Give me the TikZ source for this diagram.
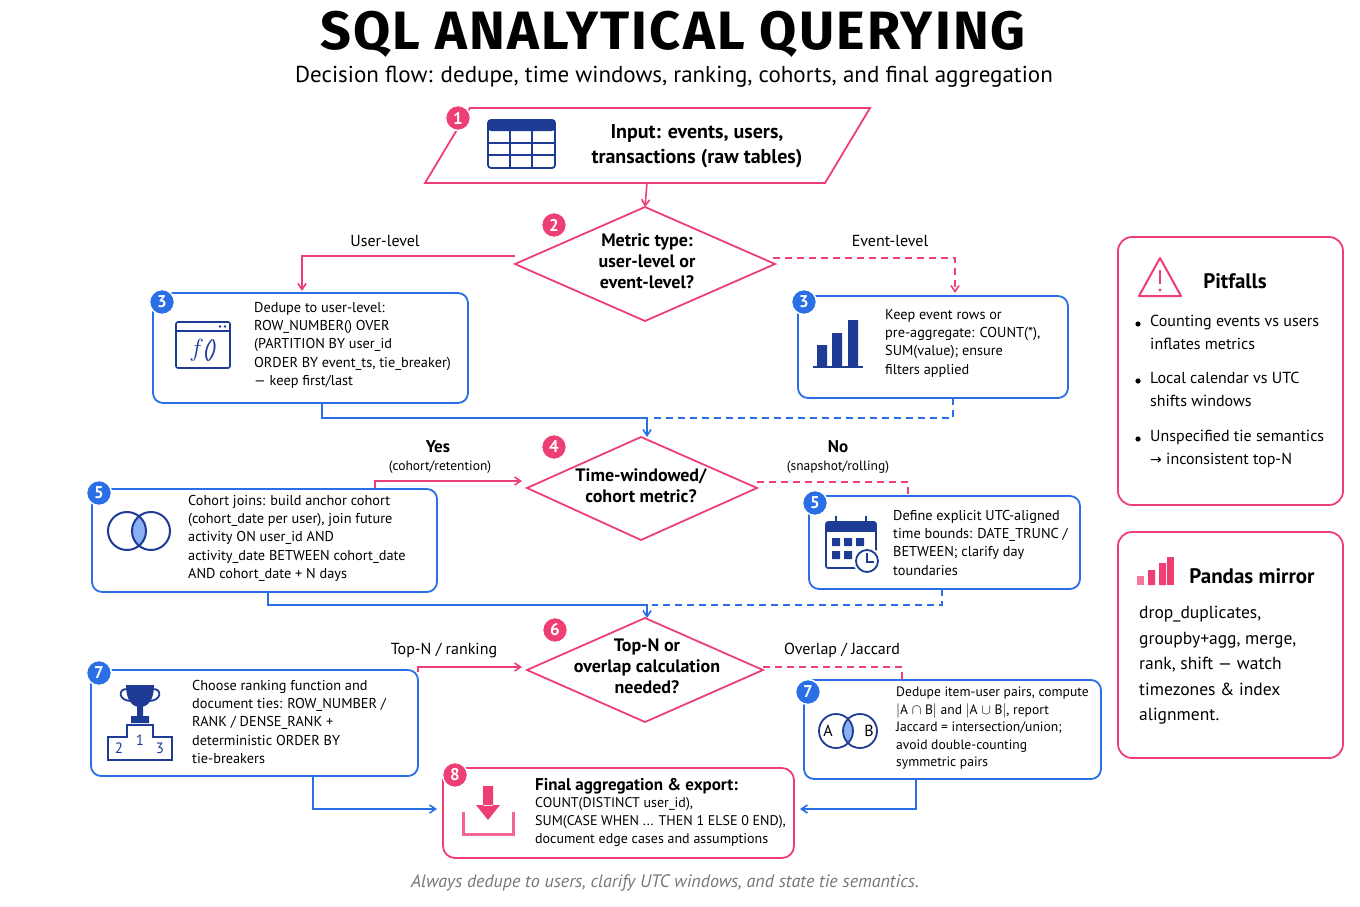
\documentclass[tikz,border=0pt]{standalone}
\usepackage{fontspec}
\setmainfont{PT Sans}
\newfontfamily\titlefont[LetterSpace=4]{Fira Sans}
\newfontfamily\dejavu{DejaVu Sans}
\usetikzlibrary{arrows.meta}
\definecolor{pk}{HTML}{EE3F74}
\definecolor{bl}{HTML}{2A6FE6}
\definecolor{nv}{HTML}{1E3C96}
\definecolor{gr}{HTML}{777777}
\begin{document}
\begin{tikzpicture}[x=1pt,y=-1pt,
 pline/.style={pk,line width=1.6pt},
 bline/.style={bl,line width=1.6pt},
 parr/.style={pline,-{Straight Barb[length=6pt,width=8pt]}},
 barr/.style={bline,-{Straight Barb[length=6pt,width=8pt]}},
 dsh/.style={dash pattern=on 7pt off 5pt},
 bbox/.style={draw=bl,line width=1.8pt,rounded corners=10pt},
 pbox/.style={draw=pk,line width=1.8pt,rounded corners=12pt},
 badge/.style={circle,minimum size=25pt,inner sep=0pt,draw=white,line width=1.5pt,text=white,font=\fontsize{17}{17}\selectfont\bfseries},
 pbadge/.style={badge,fill=pk},
 bbadge/.style={badge,fill=bl},
 txt/.style={anchor=north west,align=left,inner sep=0pt,font=\fontsize{14.3}{18.3}\selectfont},
 dtxt/.style={align=center,inner sep=0pt,font=\fontsize{18}{21}\selectfont\bfseries},
 lab/.style={inner sep=0pt,font=\fontsize{16}{16}\selectfont},
 slab/.style={inner sep=0pt,font=\fontsize{13.5}{13}\selectfont},
 stxt/.style={anchor=north west,align=left,inner sep=0pt,font=\fontsize{16}{23.3}\selectfont},
]
\useasboundingbox (0,0) rectangle (1360,907);
\fill[white] (0,0) rectangle (1360,907);
% title
\node[inner sep=0pt,font=\titlefont\fontsize{54}{54}\selectfont\bfseries] (title) at (673,34) {SQL ANALYTICAL QUERYING};
\node[inner sep=0pt,font=\fontsize{23}{23}\selectfont] (sub) at (674,77) {Decision flow: dedupe, time windows, ranking, cohorts, and final aggregation};
% 1
\draw[pk,line width=1.8pt] (425,183)--(470,108)--(870,108)--(825,183)--cycle;
\coordinate (n1b) at (647,183);
\node[dtxt,font=\fontsize{20}{25}\selectfont\bfseries] (t1) at (697,146) {Input: events, users,\\transactions (raw tables)};
\begin{scope}[nv,line width=1.8pt]
\draw[rounded corners=3pt] (488,120) rectangle (555,168);
\fill[rounded corners=3pt] (488,120) rectangle (555,131);
\draw (488,143)--(555,143) (488,155)--(555,155) (510,131)--(510,168) (532,131)--(532,168);
\end{scope}
\node[pbadge] (b1) at (458,118) {1};
% 2
\draw[pk,line width=1.8pt] (645,207)--(775,264)--(645,321)--(515,264)--cycle;
\coordinate (d2t) at (645,207); \coordinate (d2l) at (515,256); \coordinate (d2r) at (773,258);
\node[dtxt] (t2) at (647,261) {Metric type:\\user-level or\\event-level?};
\node[pbadge] (b2) at (554,225) {2};
\draw[parr] (n1b)--(d2t);
\draw[parr] (d2l)--(302,256)--(302,291);
\node[lab] (l2a) at (385,241) {User-level};
\draw[parr,dsh] (d2r)--(955,258)--(955,293);
\node[lab] (l2b) at (890,241) {Event-level};
% 3L
\draw[bbox] (153,293) rectangle (468,403);
\node[txt] (t3l) at (254,302) {Dedupe to user-level:\\ROW\_NUMBER() OVER\\(PARTITION BY user\_id\\ORDER BY event\_ts, tie\_breaker)\\— keep first/last};
\begin{scope}[nv,line width=1.6pt]
\draw[rounded corners=2pt] (176,322) rectangle (230,368);
\draw (176,331)--(230,331);
\fill (220,326.5) circle [radius=1.3] (225,326.5) circle [radius=1.3];
\end{scope}
\node[nv,inner sep=0pt,font=\fontsize{24}{24}\selectfont\itshape] (fx) at (203,350) {$f$()};
\node[bbadge] (b3l) at (162,302) {3};
% 3R
\draw[bbox] (798,296) rectangle (1068,398);
\node[txt] (t3r) at (885,309) {Keep event rows or\\pre-aggregate: COUNT(*),\\SUM(value); ensure\\filters applied};
\fill[nv] (817,345) rectangle (827,367) (832,333) rectangle (842,367) (848,320) rectangle (858,367);
\draw[nv,line width=1.8pt] (813,367)--(863,367);
\node[bbadge] (b3r) at (804,302) {3};
% merge to 4
\draw[barr] (322,403)--(322,418)--(647,418)--(647,437);
\draw[bline,dsh] (953,398)--(953,418)--(652,418);
% 4
\draw[pk,line width=1.8pt] (641,437)--(757,488)--(641,540)--(527,488)--cycle;
\node[dtxt] (t4) at (641,486) {Time-windowed/\\cohort metric?};
\node[pbadge] (b4) at (554,447) {4};
\draw[parr] (375,489)--(375,481)--(522,481);
\node[lab,font=\fontsize{17}{17}\selectfont\bfseries] (yes) at (438,447) {Yes};
\node[slab] (yes2) at (440,467) {(cohort/retention)};
\draw[pline,dsh] (757,482)--(908,482)--(908,495);
\node[lab,font=\fontsize{17}{17}\selectfont\bfseries] (no) at (838,447) {No};
\node[slab] (no2) at (838,467) {(snapshot/rolling)};
% 5L
\draw[bbox] (92,489) rectangle (437,592);
\node[txt] (t5l) at (188,495) {Cohort joins: build anchor cohort\\(cohort\_date per user), join future\\activity ON user\_id AND\\activity\_date BETWEEN cohort\_date\\AND cohort\_date + N days};
\begin{scope}
\clip (127,531) circle [radius=19];
\fill[bl!55] (151,531) circle [radius=19];
\end{scope}
\draw[nv,line width=2pt] (127,531) circle [radius=19] (151,531) circle [radius=19];
\node[bbadge] (b5l) at (99,493) {5};
% 5R
\draw[bbox] (809,496) rectangle (1080,589);
\node[txt] (t5r) at (893,510) {Define explicit UTC-aligned\\time bounds: DATE\_TRUNC /\\BETWEEN; clarify day\\toundaries};
\begin{scope}[nv]
\draw[line width=1.6pt,rounded corners=2pt] (826,522) rectangle (876,568);
\fill (826,522) rectangle (876,532);
\draw[line width=1.8pt] (836,516)--(836,526) (866,516)--(866,526);
\fill (832,538) rectangle (840,546) (844,538) rectangle (852,546) (856,538) rectangle (864,546);
\fill (832,551) rectangle (840,559) (844,551) rectangle (852,559);
\fill[white] (867,561) circle [radius=14];
\draw[line width=1.8pt] (867,561) circle [radius=11];
\draw[line width=1.6pt] (867,553)--(867,562)--(874,562);
\end{scope}
\node[bbadge] (b5r) at (815,503) {5};
% merge to 6
\draw[barr] (268,592)--(268,605)--(647,605)--(647,618);
\draw[bline,dsh] (942,589)--(942,605)--(652,605);
% 6
\draw[pk,line width=1.8pt] (645,618)--(763,670)--(645,722)--(527,670)--cycle;
\node[dtxt] (t6) at (647,666) {Top-N or\\overlap calculation\\needed?};
\node[pbadge] (b6) at (555,630) {6};
\draw[parr] (418,672)--(418,667)--(522,667);
\node[lab] (l6a) at (444,650) {Top-N / ranking};
\draw[pline,dsh] (763,667)--(902,667)--(902,680);
\node[lab] (l6b) at (842,650) {Overlap / Jaccard};
% 7L
\draw[bbox] (91,670) rectangle (418,776);
\node[txt] (t7l) at (192,680) {Choose ranking function and\\document ties: ROW\_NUMBER /\\RANK / DENSE\_RANK +\\deterministic ORDER BY\\tie-breakers};
\begin{scope}[nv]
\fill (126,685)--(154,685) .. controls (154,700) and (148,707) .. (140,707) .. controls (132,707) and (126,700) .. (126,685)--cycle;
\draw[line width=1.8pt] (127,689) .. controls (117,689) and (119,701) .. (131,701);
\draw[line width=1.8pt] (153,689) .. controls (163,689) and (161,701) .. (149,701);
\fill (137,706) rectangle (143,716) (131,716) rectangle (149,723);
\draw[line width=1.8pt] (108,760)--(108,737)--(127,737)--(127,725)--(153,725)--(153,737)--(172,737)--(172,760)--cycle;
\end{scope}
\node[nv,inner sep=0pt,font=\fontsize{15}{15}\selectfont] at (119,748) {2};
\node[nv,inner sep=0pt,font=\fontsize{15}{15}\selectfont] at (140,740) {1};
\node[nv,inner sep=0pt,font=\fontsize{15}{15}\selectfont] at (160,748) {3};
\node[bbadge] (b7l) at (99,673) {7};
% 7R
\draw[bbox] (804,680) rectangle (1101,779);
\node[txt,font=\fontsize{13.6}{17.5}\selectfont] (t7r) at (896,687) {Dedupe item-user pairs, compute\\$|$A $\cap$ B$|$ and $|$A $\cup$ B$|$, report\\Jaccard = intersection/union;\\avoid double-counting\\symmetric pairs};
\begin{scope}
\clip (836,731) circle [radius=17];
\fill[bl!55] (860,731) circle [radius=17];
\end{scope}
\draw[nv,line width=1.8pt] (836,731) circle [radius=17] (860,731) circle [radius=17];
\node[inner sep=0pt,font=\fontsize{16}{16}\selectfont] at (828,731) {A};
\node[inner sep=0pt,font=\fontsize{16}{16}\selectfont] at (869,731) {B};
\node[bbadge] (b7r) at (808,692) {7};
% 8
\draw[pbox] (443,768) rectangle (794,858);
\node[txt,font=\fontsize{14}{18}\selectfont] (t8) at (535,778) {\fontsize{17}{18}\selectfont\bfseries Final aggregation \& export:\\[-1pt]COUNT(DISTINCT user\_id),\\SUM(CASE WHEN ... THEN 1 ELSE 0 END),\\document edge cases and assumptions};
\fill[pk] (483,786) rectangle (493,806) (476,805)--(500,805)--(488,820)--cycle;
\draw[pk!80,line width=3pt] (463,812)--(463,834)--(513,834)--(513,812);
\node[pbadge] (b8) at (455,775) {8};
\draw[barr] (313,776)--(313,809)--(437,809);
\draw[barr] (916,779)--(916,809)--(800,809);
% footer
\node[gr,inner sep=0pt,font=\fontsize{18}{18}\selectfont\itshape] (foot) at (665,883) {Always dedupe to users, clarify UTC windows, and state tie semantics.};
% Pitfalls
\draw[pk,line width=1.8pt,rounded corners=14pt] (1118,237) rectangle (1343,505);
\draw[pk,line width=2pt,line join=round] (1160,258)--(1181,296)--(1139,296)--cycle;
\draw[pk,line width=2.5pt] (1160,270)--(1160,284);
\fill[pk] (1160,290) circle [radius=1.7];
\node[inner sep=0pt,font=\fontsize{21}{21}\selectfont\bfseries] (pt) at (1235,281) {Pitfalls};
\foreach \y in {324,381,439} \fill (1138,\y) circle [radius=2.6];
\node[txt,font=\fontsize{16}{23.3}\selectfont] (p1) at (1150,315) {Counting events vs users\\inflates metrics};
\node[txt,font=\fontsize{16}{23.3}\selectfont] (p2) at (1150,372) {Local calendar vs UTC\\shifts windows};
\node[txt,font=\fontsize{16}{23.3}\selectfont] (p3) at (1150,430) {Unspecified tie semantics\\{\dejavu\fontsize{14}{14}\selectfont →} inconsistent top-N};
% Pandas
\draw[pk,line width=1.8pt,rounded corners=14pt] (1118,532) rectangle (1343,758);
\fill[pk!70] (1137,576) rectangle (1144,585);
\fill[pk] (1148,570) rectangle (1155,585) (1159,563) rectangle (1166,585) ;
\fill[pk] (1167,557) rectangle (1174,585);
\node[inner sep=0pt,font=\fontsize{21}{21}\selectfont\bfseries] (pm) at (1252,576) {Pandas mirror};
\node[stxt,font=\fontsize{17.5}{25.5}\selectfont] (pd) at (1139,606) {drop\_duplicates,\\groupby+agg, merge,\\rank, shift — watch\\timezones \& index\\alignment.};
\end{tikzpicture}
\end{document}
